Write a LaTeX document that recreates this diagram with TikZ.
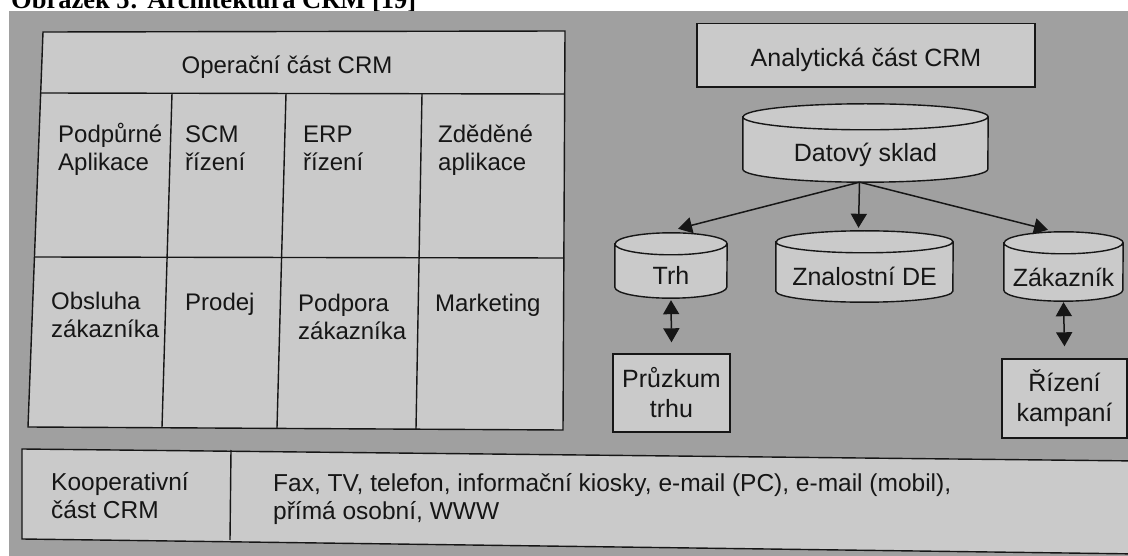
\documentclass[tikz,border=0pt]{standalone}
\usepackage{fontspec}
\setmainfont{Liberation Sans}
\newfontfamily\titlefont{Liberation Serif}
\usetikzlibrary{arrows.meta,calc,backgrounds}
\definecolor{photobg}{RGB}{160,160,160}
\definecolor{paper}{RGB}{202,202,202}
\definecolor{ink}{RGB}{22,22,22}
\newcommand\strutx{\rule{0pt}{24pt}}
\newcommand\cyl[3]{% node, x radius, y radius
  \path[draw=ink, line width=1.4pt, fill=paper]
    let \p1=(#1.north west), \p2=(#1.south east) in
    (\x1,\y1-#3pt) -- (\x1,\y2+#3pt)
      arc[start angle=180,end angle=360,x radius=#2pt,y radius=#3pt]
      -- (\x2,\y1-#3pt)
      arc[start angle=0,end angle=180,x radius=#2pt,y radius=#3pt] -- cycle
    (\x1,\y1-#3pt) arc[start angle=180,end angle=360,x radius=#2pt,y radius=#3pt];
}
\tikzset{
  frame/.style={draw=ink, line width=1.4pt},
  txt/.style={inner sep=0pt, text=ink, font=\fontsize{24.5}{29}\selectfont},
  cell/.style={txt, anchor=north west, align=left, font=\fontsize{24}{28}\selectfont},
  band/.style={txt, anchor=north west, align=left, font=\fontsize{24.5}{28.5}\selectfont},
  box/.style={frame, fill=paper, inner sep=0pt, text=ink, align=center,
    font=\fontsize{25}{30}\selectfont},
  cylbox/.style={inner sep=0pt, text=ink, font=\fontsize{25}{30}\selectfont, text depth=0pt},
  arr/.style={draw=ink, line width=1.5pt, -{Triangle[length=14pt,width=16pt]}},
  dbl/.style={draw=ink, line width=1.5pt, {Triangle[length=14pt,width=16pt]}-{Triangle[length=14pt,width=16pt]}}
}
\begin{document}
\begin{tikzpicture}[x=1pt,y=1pt]
\useasboundingbox (0,0) rectangle (1128,-556);
\clip (0,0) rectangle (1128,-556);
\begin{scope}[on background layer]
  \fill[white] (0,0) rectangle (1128,-556);
  \node[anchor=base west, inner sep=0pt, text=black,
        font=\titlefont\bfseries\fontsize{26.5}{30}\selectfont] (title) at (11,-9)
        {Obrázek 5: Architektura CRM [19]};
  \fill[photobg] (9,-11) rectangle (1128,-556);
\end{scope}

% Operational part (table)
\draw[frame, fill=paper] (43,-32) -- (565,-31) -- (563,-430) -- (28,-427) -- cycle;
\draw[frame] (40.7,-93) -- (564.9,-94);
\draw[frame] (34.5,-257) -- (564,-258);
\draw[frame] (172,-93.5) -- (162,-427.5);
\draw[frame] (286,-93.5) -- (277,-428);
\draw[frame] (422,-93.8) -- (416,-429);

\node[txt, anchor=base, font=\fontsize{24}{28}\selectfont] (oper) at (287,-74) {Operační část CRM};
\node[cell] (c11) at (58,-118) {\strutx Podpůrné\\Aplikace};
\node[cell] (c12) at (185,-118) {\strutx SCM\\řízení};
\node[cell] (c13) at (303,-118) {\strutx ERP\\řízení};
\node[cell] (c14) at (438,-118) {\strutx Zděděné\\aplikace};
\node[cell] (c21) at (51,-285) {\strutx Obsluha\\zákazníka};
\node[cell] (c22) at (185,-286) {\strutx Prodej};
\node[cell] (c23) at (298,-287) {\strutx Podpora\\zákazníka};
\node[cell] (c24) at (435,-287) {\strutx Marketing};

% Cooperative part (band)
\draw[frame, fill=paper] (22,-449) -- (1140,-461) -- (1140,-554) -- (22,-539) -- cycle;
\draw[frame] (231,-450) -- (230,-540);
\node[band] (koop) at (51,-466) {\strutx Kooperativní\\část CRM};
\node[band] (chan) at (273,-467) {\strutx Fax, TV, telefon, informační kiosky, e-mail (PC), e-mail (mobil),\\přímá osobní, WWW};

% Analytical part
\node[box, minimum width=338pt, minimum height=63.5pt, text height=23.5pt, text depth=0pt]
  (an) at (866,-55.25) {Analytická část CRM};

\node[cylbox, minimum width=245pt, minimum height=78pt, text height=38pt] (ds) at (865.5,-143) {Datový sklad};
\node[cylbox, minimum width=112pt, minimum height=65pt, text height=39pt] (trh) at (671,-265.5) {Trh};
\node[cylbox, minimum width=177pt, minimum height=71pt, text height=39pt] (znal) at (864.5,-266.5) {Znalostní DE};
\node[cylbox, minimum width=119pt, minimum height=69pt, text height=41pt] (zak) at (1063.5,-266.5) {Zákazník};

\begin{scope}[on background layer]
  \cyl{ds}{122.5}{13}
  \cyl{trh}{56}{11}
  \cyl{znal}{88.5}{11}
  \cyl{zak}{59.5}{11}
\end{scope}

\node[box, minimum width=117pt, minimum height=78pt] (pr) at (671.5,-393) {Průzkum\\trhu};
\node[box, minimum width=125pt, minimum height=79pt] (rk) at (1064.5,-398.5) {Řízení\\kampaní};

\coordinate (dsout) at ($(ds.south)+(-6,0)$);
\draw[arr] (dsout) -- ($(trh.north)+(7,4)$);
\draw[arr] (dsout) -- ($(znal.north)+(-6,3)$);
\draw[arr] (dsout) -- ($(zak.north)+(-15.5,2)$);

\draw[dbl] ($(trh.south)+(0,-2)$) -- ($(pr.north)+(0,11)$);
\draw[dbl] ($(zak.south)+(0,-1)$) -- ($(rk.north)+(0,12)$);
\end{tikzpicture}
\end{document}
